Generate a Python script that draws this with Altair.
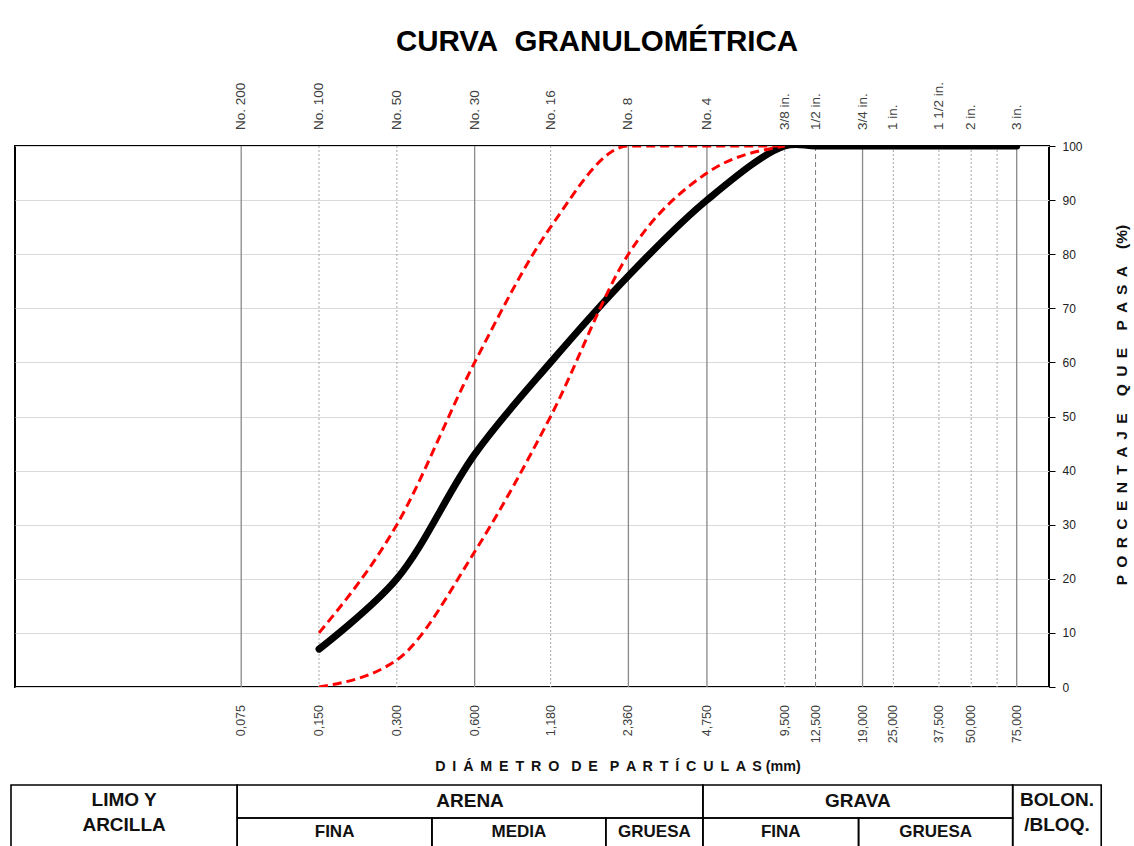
import altair as alt
import pandas as pd

# ---------------- data ----------------
sieve_mm = [0.075, 0.150, 0.300, 0.600, 1.18, 2.36, 4.75, 9.5, 12.5, 19.0, 25.0, 37.5, 50.0, 75.0]
sieve_name = ["No. 200", "No. 100", "No. 50", "No. 30", "No. 16", "No. 8", "No. 4",
              "3/8 in.", "1/2 in.", "3/4 in.", "1 in.", "1 1/2 in.", "2 in.", "3 in."]
sieve_text = ["0,075", "0,150", "0,300", "0,600", "1,180", "2,360", "4,750",
              "9,500", "12,500", "19,000", "25,000", "37,500", "50,000", "75,000"]

grid_mm = [0.075, 0.150, 0.300, 0.600, 1.18, 2.36, 4.75, 9.5, 12.5, 19.0, 25.0, 37.5, 50.0, 63.0, 75.0]
grid_kind = ["solid", "dot", "dot", "solid", "dot", "solid", "solid", "dot", "dash",
             "solid", "dot", "dot", "dot", "dot", "solid"]

curve_mm = [0.150, 0.300, 0.600, 1.18, 2.36, 4.75, 9.5, 12.5, 19.0, 25.0, 37.5, 50.0, 75.0]
curve_pct = [7, 20, 43, 60, 76, 90, 100, 100, 100, 100, 100, 100, 100]

limit_mm = [0.150, 0.300, 0.600, 1.18, 2.36, 4.75, 9.5]
limit_upper = [10, 30, 60, 85, 100, 100, 100]
limit_lower = [0, 5, 25, 50, 80, 95, 100]

class_top = ["ARENA", "GRAVA"]
class_top_lo = [0.075, 4.75]
class_top_hi = [4.75, 75.0]
class_sub = ["FINA", "MEDIA", "GRUESA", "FINA", "GRUESA"]
class_sub_lo = [0.075, 0.425, 2.0, 4.75, 19.0]
class_sub_hi = [0.425, 2.0, 4.75, 19.0, 75.0]
class_span = ["LIMO Y\nARCILLA", "BOLON.\n/BLOQ."]
class_span_lo = [0.01, 75.0]
class_span_hi = [0.075, 165.0]

TS = "\u2009"  # thin space used for letter spacing
NB = "\u00a0"


def spaced(word):
    return (" " + TS).join(list(word))


title_text = "CURVA" + NB + " GRANULOMÉTRICA"
x_title = (NB + NB + " ").join([spaced("DIÁMETRO"), spaced("DE"), spaced("PARTÍCULAS")]) + " (mm)"
y_title = (NB + NB + NB + " ").join([spaced("PORCENTAJE"), spaced("QUE"), spaced("PASA"), "(%)"])

FONT = "Liberation Sans"

# ---------------- scales ----------------
xs = alt.Scale(type="log", domain=[0.01, 100], nice=False)
ys = alt.Scale(domain=[0, 100], nice=False)
yaxis = alt.Axis(orient="right", values=list(range(0, 101, 10)), title=None, domain=False,
                 ticks=True, tickSize=6, tickColor="#000", tickWidth=1,
                 labelFont=FONT, labelFontSize=12, labelColor="#222", labelPadding=7,
                 grid=True, gridColor="#d9d9d9", gridWidth=1)


def X(f):
    return alt.X(f, type="quantitative", scale=xs, axis=None)


def Y(f):
    return alt.Y(f, type="quantitative", scale=ys, axis=yaxis)


# ---------------- layers ----------------
grid_df = pd.DataFrame({"mm": grid_mm, "kind": grid_kind})
kinds = ["solid", "dot", "dash"]
vlines = alt.Chart(grid_df).mark_rule().encode(
    x=X("mm"),
    strokeDash=alt.StrokeDash("kind:N", scale=alt.Scale(domain=kinds, range=[[1, 0], [2, 2], [5, 3]]), legend=None),
    color=alt.Color("kind:N", scale=alt.Scale(domain=kinds, range=["#8a8a8a", "#b3b3b3", "#808080"]), legend=None),
    strokeWidth=alt.StrokeWidth("kind:N", scale=alt.Scale(domain=kinds, range=[1.3, 1, 1.3]), legend=None),
)

curve_df = pd.DataFrame({"mm": curve_mm, "pct": curve_pct})
curve = alt.Chart(curve_df).mark_line(color="black", strokeWidth=7, interpolate="catmull-rom",
                                      strokeCap="round", strokeJoin="round", clip=True).encode(
    x=X("mm"), y=Y("pct"))

lim_df = pd.DataFrame({"mm": limit_mm + limit_mm,
                       "pct": limit_upper + limit_lower,
                       "bound": ["sup"] * len(limit_mm) + ["inf"] * len(limit_mm)})
red = alt.Chart(lim_df).mark_line(color="#ff0000", strokeWidth=3, strokeDash=[9, 5],
                                  interpolate="monotone", clip=True).encode(
    x=X("mm"), y=Y("pct"), detail="bound:N")

sieve_df = pd.DataFrame({"mm": sieve_mm, "name": sieve_name, "open": sieve_text})
top_lbl = alt.Chart(sieve_df).mark_text(angle=270, align="left", baseline="middle", font=FONT,
                                        fontSize=13.5, color="#404040").encode(
    x=X("mm"), y=alt.value(-16), text="name:N")
bot_lbl = alt.Chart(sieve_df).mark_text(angle=270, align="right", baseline="middle", font=FONT,
                                        fontSize=12.5, color="#404040").encode(
    x=X("mm"), y=alt.value(559), text="open:N")

title = alt.Chart(pd.DataFrame({"t": [title_text]})).mark_text(
    font=FONT, fontSize=29.5, fontWeight="bold", color="black", align="center", baseline="middle").encode(
    x=alt.value(582), y=alt.value(-104), text="t:N")
xt = alt.Chart(pd.DataFrame({"t": [x_title]})).mark_text(
    font=FONT, fontSize=14.3, fontWeight="bold", color="#111", align="center", baseline="middle").encode(
    x=alt.value(603), y=alt.value(621), text="t:N")
yt = alt.Chart(pd.DataFrame({"t": [y_title]})).mark_text(
    font=FONT, fontSize=15.5, fontWeight="bold", color="#111", align="center", baseline="middle", angle=270).encode(
    x=alt.value(1107), y=alt.value(259), text="t:N")

# classification table
top_df = pd.DataFrame({"name": class_top, "lo": class_top_lo, "hi": class_top_hi})
sub_df = pd.DataFrame({"name": class_sub, "lo": class_sub_lo, "hi": class_sub_hi})
span_df = pd.DataFrame({"name": class_span, "lo": class_span_lo, "hi": class_span_hi})

rect_kw = dict(fillOpacity=0, stroke="black", strokeWidth=1.6, xOffset=-4, x2Offset=-4)
t_rect_top = alt.Chart(top_df).mark_rect(**rect_kw).encode(
    x=X("lo"), x2="hi:Q", y=alt.value(639), y2=alt.value(672))
t_rect_sub = alt.Chart(sub_df).mark_rect(**rect_kw).encode(
    x=X("lo"), x2="hi:Q", y=alt.value(672), y2=alt.value(730))
t_rect_span = alt.Chart(span_df).mark_rect(**rect_kw).encode(
    x=X("lo"), x2="hi:Q", y=alt.value(639), y2=alt.value(730))

txt_kw = dict(font=FONT, fontWeight="bold", color="#111", align="center", baseline="middle", dx=-4)
t_txt_top = alt.Chart(top_df).transform_calculate(mid="sqrt(datum.lo*datum.hi)").mark_text(
    fontSize=19, **txt_kw).encode(x=X("mid"), y=alt.value(655), text="name:N")
t_txt_sub = alt.Chart(sub_df).transform_calculate(mid="sqrt(datum.lo*datum.hi)").mark_text(
    fontSize=17, **txt_kw).encode(x=X("mid"), y=alt.value(686), text="name:N")
t_txt_span = alt.Chart(span_df).transform_calculate(mid="sqrt(datum.lo*datum.hi)").mark_text(
    fontSize=19, lineBreak="\n", lineHeight=25, **txt_kw).encode(x=X("mid"), y=alt.value(654), text="name:N")

chart = alt.layer(
    vlines, curve, red, top_lbl, bot_lbl, title, xt, yt,
    t_rect_top, t_rect_sub, t_rect_span, t_txt_top, t_txt_sub, t_txt_span
).properties(
    width=1034, height=541,
    autosize=alt.AutoSizeParams(type="none"),
    padding={"left": 15, "top": 146, "right": 85, "bottom": 159},
    background="white",
).configure_view(stroke="black", strokeWidth=2)

chart.save("out.html", embed_options={"renderer": "svg", "actions": False})
